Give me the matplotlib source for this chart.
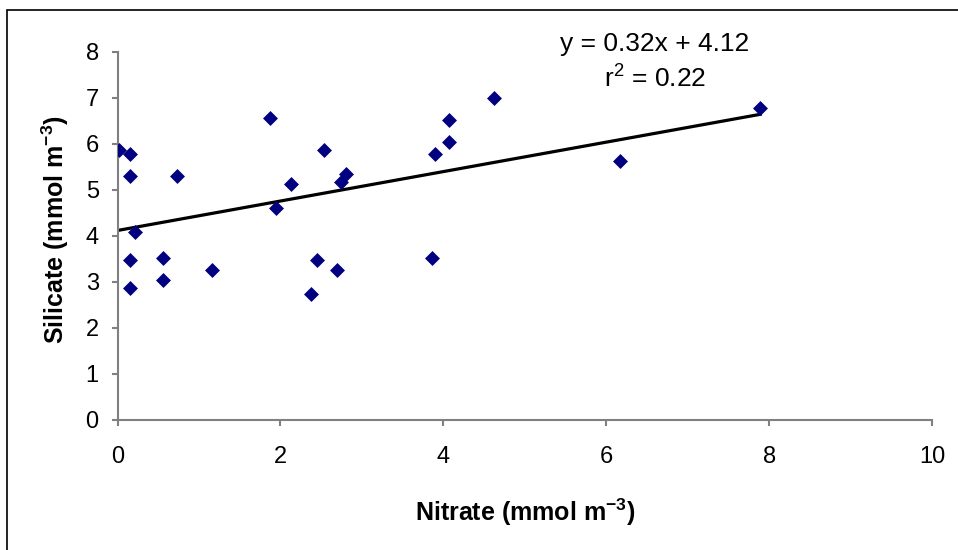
import matplotlib.pyplot as plt
import numpy as np
from matplotlib.patches import Rectangle

plt.rcParams['font.family'] = ['Liberation Sans', 'DejaVu Sans']
plt.rcParams['mathtext.fontset'] = 'custom'
plt.rcParams['mathtext.rm'] = 'Liberation Sans'
plt.rcParams['mathtext.bf'] = 'Liberation Sans:bold'

# nitrate vs silicate (mmol m-3)
nitrate = [0.02, 0.15, 0.15, 0.73, 0.22, 0.15, 0.56, 1.16, 0.15, 0.56,
           1.94, 2.13, 2.38, 2.45, 1.87, 2.53, 2.80, 2.75, 2.70, 4.07,
           4.07, 3.90, 3.86, 4.62, 6.17, 7.89]
silicate = [5.87, 5.78, 5.31, 5.31, 4.08, 3.48, 3.53, 3.26, 2.88, 3.04,
            4.60, 5.14, 2.74, 3.48, 6.57, 5.87, 5.35, 5.17, 3.26, 6.52,
            6.04, 5.79, 3.53, 7.01, 5.62, 6.79]
slope = 0.32
intercept = 4.12
r2 = 0.22

fig = plt.figure(figsize=(9.58, 5.5), dpi=100)
ax = fig.add_axes([117.5 / 958, 1 - 420 / 550, (932 - 117.5) / 958, (420 - 52) / 550])

ax.scatter(nitrate, silicate, marker='D', s=58, color='#000080', zorder=3, linewidths=0)

xfit = np.array([0, max(nitrate)])
ax.plot(xfit, slope * xfit + intercept, color='black', lw=2.3, zorder=2)

ax.set_xlim(0, 10)
ax.set_ylim(0, 8)
ax.set_xticks(range(0, 11, 2))
ax.set_yticks(range(0, 9))
for s in ['top', 'right']:
    ax.spines[s].set_visible(False)
for s in ['left', 'bottom']:
    ax.spines[s].set_color('#808080')
    ax.spines[s].set_linewidth(1.5)
ax.tick_params(direction='out', length=4.5, width=1.5, color='#808080', labelsize=17)
ax.tick_params(axis='x', pad=14)
ax.tick_params(axis='y', pad=9)

ax.set_xlabel(r'Nitrate (mmol m$^{\mathbf{-3}}$)', fontsize=18, fontweight='bold')
ax.set_ylabel(r'Silicate (mmol m$^{\mathbf{-3}}$)', fontsize=18, fontweight='bold')
ax.xaxis.set_label_coords(0.5, (420 - 497) / 368)
ax.yaxis.set_label_coords((71 - 117.5) / 814.5, (420 - 230) / 368)

fig.text(655 / 958, 1 - 44 / 550, f'y = {slope:.2f}x + {intercept:.2f}',
         ha='center', va='center', fontsize=19)
fig.text(655 / 958, 1 - 78 / 550, f'r$^2$ = {r2:.2f}',
         ha='center', va='center', fontsize=19)

fig.add_artist(Rectangle((7 / 958, -0.1), 1.2, 1.1 - 10 / 550, transform=fig.transFigure,
                         fill=False, edgecolor='black', lw=1.2))

fig.savefig('out.png', dpi=100)
